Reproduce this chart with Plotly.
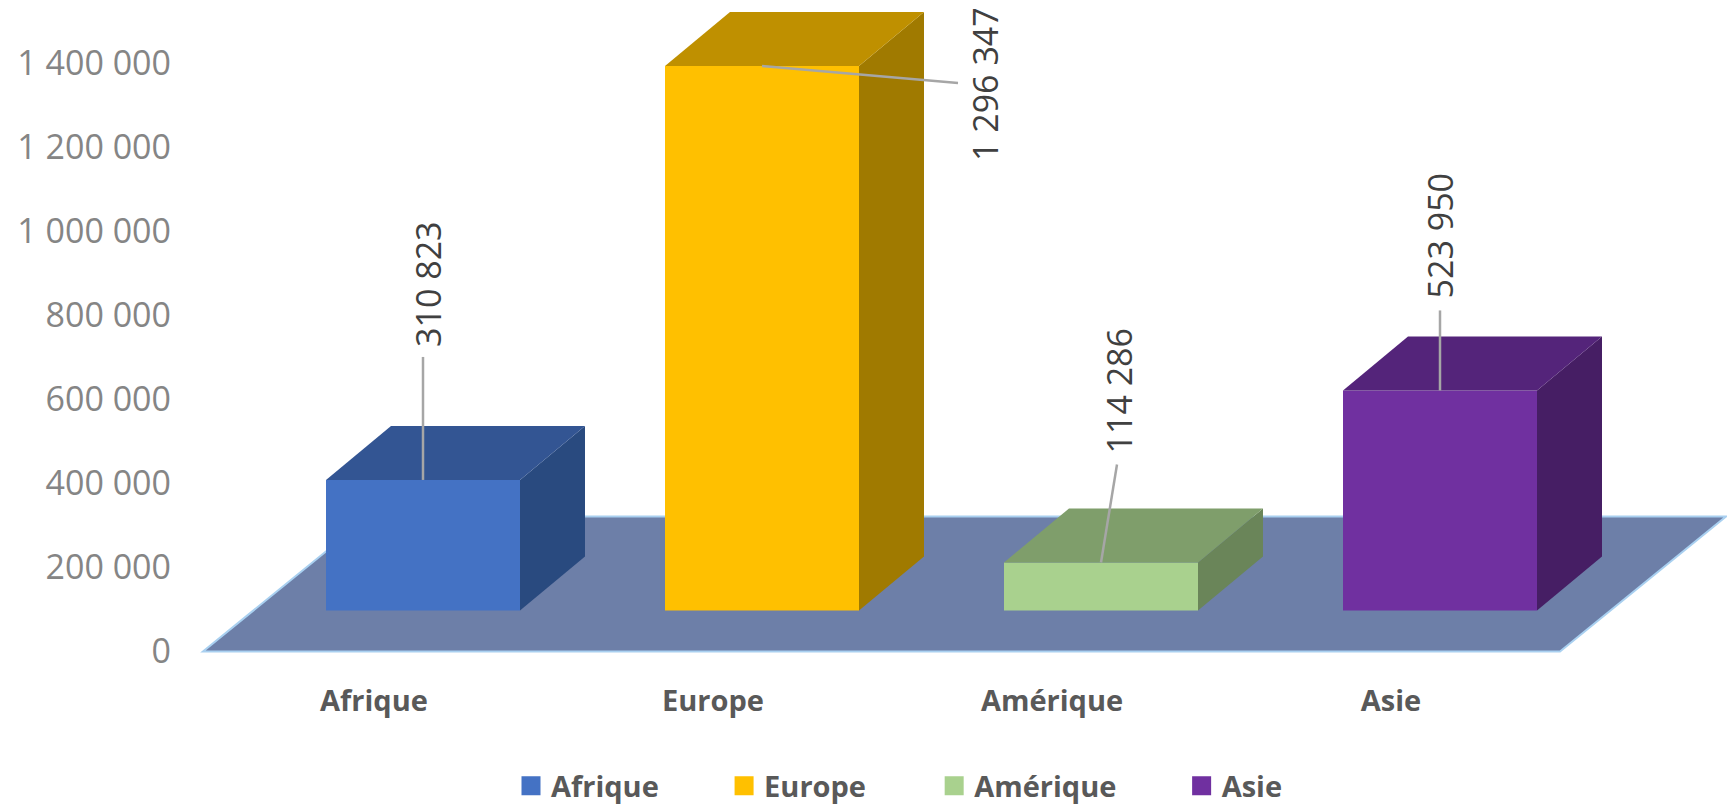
import plotly.graph_objects as go

# ---- data ----
categories = ["Afrique", "Europe", "Amérique", "Asie"]
values = [310823, 1296347, 114286, 523950]
value_labels = ["310 823", "1 296 347", "114 286", "523 950"]
y_ticks = [0, 200000, 400000, 600000, 800000, 1000000, 1200000, 1400000]
y_tick_labels = ["0", "200 000", "400 000", "600 000", "800 000", "1 000 000", "1 200 000", "1 400 000"]

# ---- style ----
front = ["#4472C4", "#FFC000", "#A9D18E", "#7030A0"]
top = ["#335593", "#BF9000", "#7F9E6B", "#54247A"]
side = ["#294A7F", "#A07A00", "#6A8559", "#461E64"]
FLOOR = "#6D7FA8"
FLOOR_EDGE = "#A9D0F0"
LEADER = "#A6A6A6"
FONT = "Open Sans"

W, H = 1727, 806
L, B_PX = 175, 681            # plot area: left edge, bottom edge in pixels
ZERO_PX = 651.5               # pixel of value 0
UNIT_PX = 0.00042             # pixels per value unit
CAT_PX = 339.0                # pixels per category
FIRST_PX = 423.0              # pixel of the first bar centre

def dx(px):
    return px / CAT_PX

def dy(px):
    return px / UNIT_PX

x_range = [(L - FIRST_PX) / CAT_PX, (W - FIRST_PX) / CAT_PX]
y_range = [dy(ZERO_PX - B_PX), dy(ZERO_PX)]

BAR_W = dx(194)
BASE = dy(41)                 # front foot of the bars above the floor edge
DEPTH_X, DEPTH_Y = dx(65), dy(54)

fig = go.Figure()

xs = list(range(len(categories)))
for i, cat in enumerate(categories):
    v, x0, x1 = values[i], i - BAR_W / 2, i + BAR_W / 2
    b, t = BASE, BASE + v
    fig.add_trace(go.Bar(x=[i], y=[v], base=[b], width=[BAR_W], marker=dict(color=front[i], line=dict(width=0)),
                         showlegend=False, hoverinfo="skip"))
    fig.add_trace(go.Scatter(x=[x1, x1 + DEPTH_X, x1 + DEPTH_X, x1, x1], y=[b, b + DEPTH_Y, t + DEPTH_Y, t, b],
                             mode="lines", fill="toself", fillcolor=side[i], line=dict(width=0, color=side[i]),
                             showlegend=False, hoverinfo="skip"))
    fig.add_trace(go.Scatter(x=[x0, x1, x1 + DEPTH_X, x0 + DEPTH_X, x0], y=[t, t, t + DEPTH_Y, t + DEPTH_Y, t],
                             mode="lines", fill="toself", fillcolor=top[i], line=dict(width=0, color=top[i]),
                             showlegend=False, hoverinfo="skip"))

# legend entries
pad = ["\u00a0" * 8, "\u00a0" * 8 + "\u200a", "\u00a0" * 8, ""]
for i, cat in enumerate(categories):
    fig.add_trace(go.Scatter(x=[None], y=[None], mode="markers", name=cat + pad[i],
                             marker=dict(symbol="square", size=16, color=front[i], line=dict(width=3, color=front[i]))))

# leader lines and value labels (offsets from the bar's front top, in pixels)
leaders = [
    [(0, 0), (0, -123)],
    [(-0, 0), (175, 15), (196, 17)],
    [(0, 0), (16, -98)],
    [(0, 0), (0, -80)],
]
label_off = [(5, -195), (223, 18), (17, -171), (0, -154)]
for i in xs:
    t = BASE + values[i]
    fig.add_trace(go.Scatter(x=[i + dx(p[0]) for p in leaders[i]], y=[t - dy(p[1]) for p in leaders[i]],
                             mode="lines", line=dict(color=LEADER, width=2.5), showlegend=False, hoverinfo="skip"))
    fig.add_annotation(x=i + dx(label_off[i][0]), y=t - dy(label_off[i][1]), text=value_labels[i], textangle=-90,
                       showarrow=False, font=dict(family=FONT, size=34, color="#404040"))

# floor plane
fx0, fx1 = dx(203 - FIRST_PX), dx(1560 - FIRST_PX)
fdx, fdy = dx(166), dy(135)
fig.add_shape(type="path", layer="below", xref="x", yref="y",
              path=f"M{fx0},0 L{fx1},0 L{fx1 + fdx},{fdy} L{fx0 + fdx},{fdy} Z",
              fillcolor=FLOOR, line=dict(color=FLOOR_EDGE, width=2))

fig.update_layout(
    width=W, height=H,
    margin=dict(l=L, r=0, t=0, b=H - B_PX, autoexpand=False),
    paper_bgcolor="white", plot_bgcolor="white",
    font=dict(family=FONT, color="#595959"),
    barmode="overlay",
    showlegend=True,
    legend=dict(orientation="h", x=(511 - L) / (W - L), xanchor="left", y=(B_PX - 786) / B_PX, yanchor="middle",
                font=dict(family=FONT, size=29, color="#595959", weight="bold"), itemwidth=30, bgcolor="rgba(0,0,0,0)"),
    xaxis=dict(range=x_range, tickmode="array", tickvals=[i + dx(-49) for i in xs], ticktext=categories,
               showgrid=False, zeroline=False, showline=False, ticks="",
               tickfont=dict(family=FONT, size=29, color="#595959", weight="bold")),
    yaxis=dict(range=y_range, tickmode="array", tickvals=y_ticks, ticktext=y_tick_labels,
               showgrid=False, zeroline=False, showline=False, ticks="", ticklabelstandoff=3,
               tickfont=dict(family=FONT, size=34, color="#858585")),
)

fig.write_html("out.html", config={"displayModeBar": False}, post_script="document.body.style.margin='0';")
